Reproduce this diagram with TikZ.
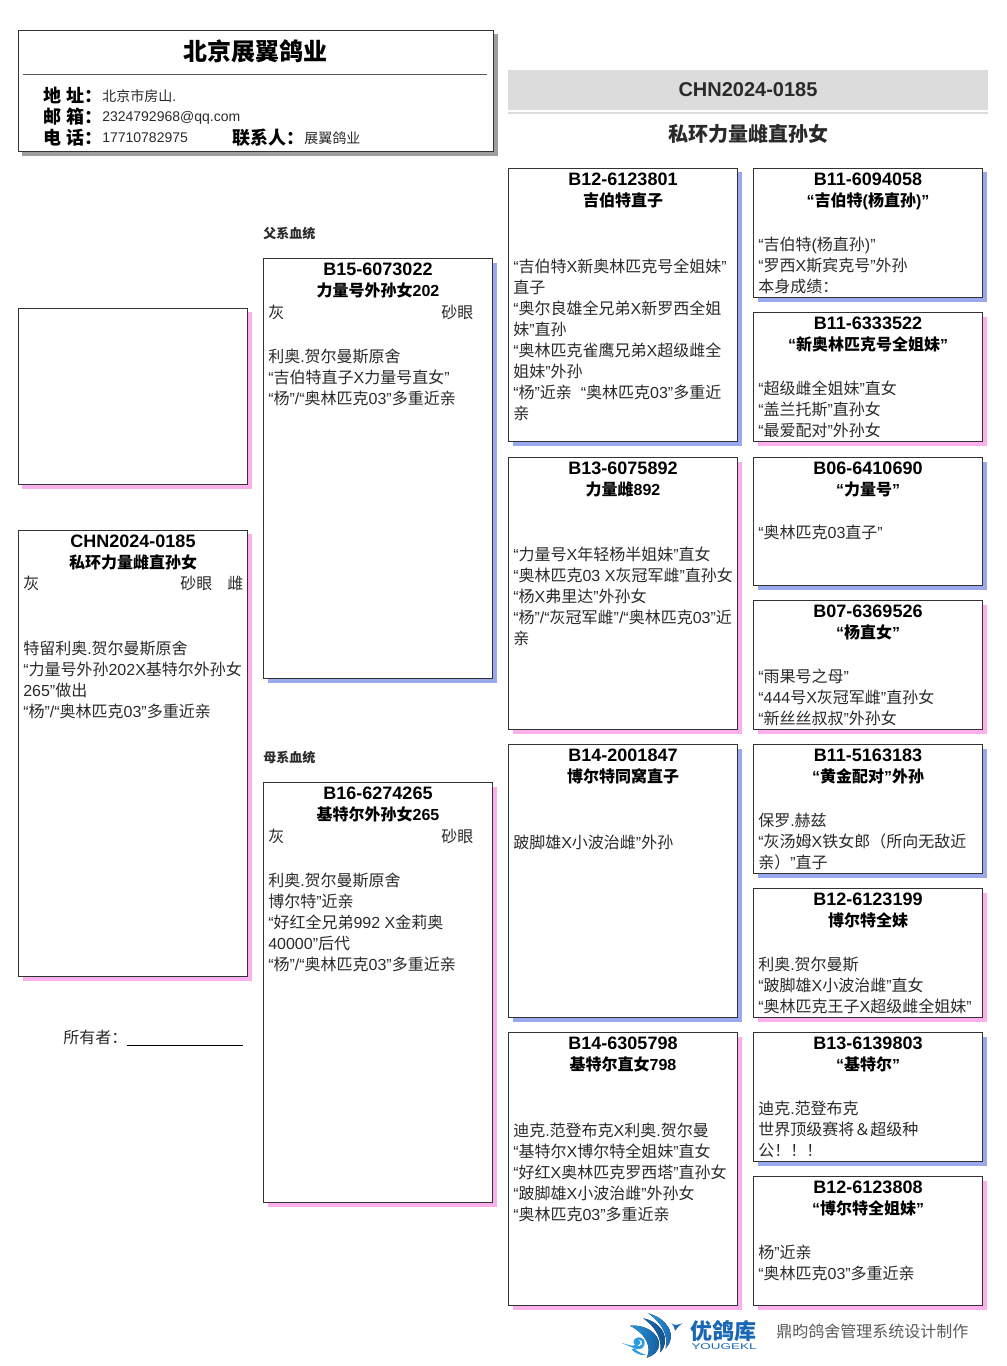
\documentclass[tikz,border=0pt]{standalone}
\usepackage{fontspec}
\setmainfont{Liberation Sans}
\newfontfamily\cjk{Noto Sans CJK SC}
\newXeTeXintercharclass\cjkclass
\newcount\cjkcnt
\def\cjkrange#1#2{\cjkcnt=#1\relax\loop\XeTeXcharclass\cjkcnt=\cjkclass\relax\ifnum\cjkcnt<#2\advance\cjkcnt by 1\repeat}
\cjkrange{"4E00}{"9FFF}
\cjkrange{"FF01}{"FF5E}
\XeTeXinterchartokenstate=1
\XeTeXinterchartoks 0 \cjkclass={\begingroup\cjk}
\XeTeXinterchartoks 4095 \cjkclass={\begingroup\cjk}
\XeTeXinterchartoks \cjkclass 0={\endgroup}
\XeTeXinterchartoks \cjkclass 4095={\endgroup}
\definecolor{shblue}{HTML}{9AA8EE}
\definecolor{shpink}{HTML}{FBB0EC}
\definecolor{shgrey}{HTML}{9E9E9E}
\definecolor{band}{HTML}{DCDCDC}
\definecolor{edge}{HTML}{333333}
\definecolor{ink}{HTML}{2A2A2A}
\definecolor{logob}{HTML}{1767B4}
\definecolor{logoc}{HTML}{2B9BDE}
\tikzset{
  x=0.75pt,y=-0.75pt,
  pedbox/.style={draw=edge,line width=0.75pt,fill=white,anchor=north west,inner sep=0pt,outer sep=0pt},
  pedtitle/.style={anchor=north,inner sep=0pt,align=center,text=black,font=\fontsize{12}{15.75}\selectfont\bfseries},
  pedbody/.style={anchor=north west,inner sep=0pt,align=left,text=ink,font=\fontsize{12}{15.75}\selectfont},
  lab/.style={anchor=base west,inner sep=0pt,text=ink},
}
\def\titlesplit#1\\#2\relax{{\fontsize{13.5}{15.75}\selectfont\strut #1}\\{\strut #2}}
\newcommand{\pedigree}[9]{%
  % name x y w h colour title bodyY body
  \fill[#6] (#2+4,#3+4) rectangle (#2+#4+4.5,#3+#5+4.5);
  \node[pedbox,minimum width=#4*0.75pt,minimum height=#5*0.75pt] (#1) at (#2,#3) {};
  \node[pedtitle] (#1t) at (#2+#4/2,#3+2.3) {\titlesplit #7\relax};
  \node[pedbody] (#1b) at (#2+4.5,#8-8.5) {\strut #9};
}
\begin{document}
\begin{tikzpicture}
\useasboundingbox (0,0) rectangle (1006,1366);
% header card
\fill[shgrey] (22,34) rectangle (497.5,156.5);
\node[pedbox,minimum width=474.5*0.75pt,minimum height=121.5*0.75pt] (card) at (18.5,30.5) {};
\node[anchor=center,inner sep=0pt,font=\fontsize{18}{20}\selectfont\bfseries] (firm) at (255.5,51) {北京展翼鸽业};
\coordinate (ruleL) at (23,74.5);
\coordinate (ruleR) at (487,74.5);
\draw[line width=0.75pt,draw=black!65] (ruleL) -- (ruleR);
\tikzset{hb/.style={lab,text=black,font=\fontsize{13.5}{16}\selectfont\bfseries},hv/.style={lab,font=\fontsize{10.5}{13}\selectfont}}
\node[hb] (l1) at (43,102.5) {地 址：};
\node[hb] (l2) at (43,123.5) {邮 箱：};
\node[hb] (l3) at (43,144.5) {电 话：};
\node[hb] (l4) at (232,144.5) {联系人：};
\node[hv] (v1) at (102,102) {北京市房山.};
\node[hv] (v2) at (102,122) {2324792968@qq.com};
\node[hv] (v3) at (102,143) {17710782975};
\node[hv] (v4) at (304,144) {展翼鸽业};
% band
\fill[band] (508,70) rectangle (988,110);
\fill[band] (508,112) rectangle (988,114);
\node[anchor=center,inner sep=0pt,text=ink,font=\fontsize{15}{18}\selectfont\bfseries] (ring) at (748,90) {CHN2024-0185};
\node[anchor=center,inner sep=0pt,text=ink,font=\fontsize{15}{18}\selectfont\bfseries] (pname) at (748,134) {私环力量雌直孙女};
% left column
\fill[shpink] (22,312) rectangle (251.5,488.5);
\node[pedbox,minimum width=229*0.75pt,minimum height=176*0.75pt] (photo) at (18.5,308.5) {};
\pedigree{main}{18.5}{530}{229}{446}{shpink}{CHN2024-0185\\私环力量雌直孙女}{648}{特留利奥.贺尔曼斯原舍\\“力量号外孙202X基特尔外孙女\\265”做出\\“杨”/“奥林匹克03”多重近亲}
\node[pedbody] (mainc) at (23,574.5) {\strut 灰};
\node[pedbody] (maine) at (180,574.5) {\strut 砂眼};
\node[pedbody] (mains) at (227,574.5) {\strut 雌};
\node[lab,font=\fontsize{12}{15}\selectfont] (owner) at (63,1043) {所有者：};
\coordinate (ownL) at (127,1045);
\coordinate (ownR) at (243,1045);
\draw[line width=0.75pt,draw=black] (ownL) -- (ownR);
% second column
\node[lab,font=\fontsize{9.75}{12}\selectfont\bfseries] (pat) at (263,238) {父系血统};
\node[lab,font=\fontsize{9.75}{12}\selectfont\bfseries] (mat) at (263,762) {母系血统};
\pedigree{sire}{263.5}{258.5}{229}{420}{shblue}{B15-6073022\\力量号外孙女202}{356}{利奥.贺尔曼斯原舍\\“吉伯特直子X力量号直女”\\“杨”/“奥林匹克03”多重近亲}
\node[pedbody] (sirec) at (268,303.5) {\strut 灰};
\node[pedbody] (siree) at (441,303.5) {\strut 砂眼};
\pedigree{dam}{263.5}{782.5}{229}{420}{shpink}{B16-6274265\\基特尔外孙女265}{880}{利奥.贺尔曼斯原舍\\博尔特”近亲\\“好红全兄弟992 X金莉奥\\40000”后代\\“杨”/“奥林匹克03”多重近亲}
\node[pedbody] (damc) at (268,827.5) {\strut 灰};
\node[pedbody] (dame) at (441,827.5) {\strut 砂眼};
% third column
\pedigree{ga}{508.5}{168.5}{229}{273}{shblue}{B12-6123801\\吉伯特直子}{266}{“吉伯特X新奥林匹克号全姐妹”\\直子\\“奥尔良雄全兄弟X新罗西全姐\\妹”直孙\\“奥林匹克雀鹰兄弟X超级雌全\\姐妹”外孙\\“杨”近亲\ \ “奥林匹克03”多重近\\亲}
\pedigree{gb}{508.5}{457.5}{229}{272}{shpink}{B13-6075892\\力量雌892}{554}{“力量号X年轻杨半姐妹”直女\\“奥林匹克03 X灰冠军雌”直孙女\\“杨X弗里达”外孙女\\“杨”/“灰冠军雌”/“奥林匹克03”近\\亲}
\pedigree{gc}{508.5}{744.5}{229}{273}{shblue}{B14-2001847\\博尔特同窝直子}{842}{跛脚雄X小波治雌”外孙}
\pedigree{gd}{508.5}{1032.5}{229}{273}{shpink}{B14-6305798\\基特尔直女798}{1130}{迪克.范登布克X利奥.贺尔曼\\“基特尔X博尔特全姐妹”直女\\“好红X奥林匹克罗西塔”直孙女\\“跛脚雄X小波治雌”外孙女\\“奥林匹克03”多重近亲}
% fourth column
\pedigree{a1}{753.5}{168.5}{229}{129}{shblue}{B11-6094058\\“吉伯特(杨直孙)”}{244}{“吉伯特(杨直孙)”\\“罗西X斯宾克号”外孙\\本身成绩：}
\pedigree{a2}{753.5}{312.5}{229}{129}{shpink}{B11-6333522\\“新奥林匹克号全姐妹”}{388}{“超级雌全姐妹”直女\\“盖兰托斯”直孙女\\“最爱配对”外孙女}
\pedigree{b1}{753.5}{457.5}{229}{128}{shblue}{B06-6410690\\“力量号”}{532}{“奥林匹克03直子”}
\pedigree{b2}{753.5}{600.5}{229}{129}{shpink}{B07-6369526\\“杨直女”}{676}{“雨果号之母”\\“444号X灰冠军雌”直孙女\\“新丝丝叔叔”外孙女}
\pedigree{c1}{753.5}{744.5}{229}{129}{shblue}{B11-5163183\\“黄金配对”外孙}{820}{保罗.赫兹\\“灰汤姆X铁女郎（所向无敌近\\亲）”直子}
\pedigree{c2}{753.5}{888.5}{229}{129}{shpink}{B12-6123199\\博尔特全妹}{964}{利奥.贺尔曼斯\\“跛脚雄X小波治雌”直女\\“奥林匹克王子X超级雌全姐妹”}
\pedigree{d1}{753.5}{1032.5}{229}{129}{shblue}{B13-6139803\\“基特尔”}{1108}{迪克.范登布克\\世界顶级赛将＆超级种\\公！！！}
\pedigree{d2}{753.5}{1176.5}{229}{129}{shpink}{B12-6123808\\“博尔特全姐妹”}{1252}{杨”近亲\\“奥林匹克03”多重近亲}
% logo mark
\begin{scope}[shift={(615,1305)},x=0.25pt,y=-0.25pt]
\fill[left color=logoc,right color=logob!90!black] (45,62) .. controls (92,58) and (130,85) .. (132,115) .. controls (133,135) and (120,150) .. (95,158) .. controls (110,130) and (98,90) .. (45,62) -- cycle;
\fill[left color=logob,right color=logob!80!black] (85,40) .. controls (125,48) and (152,78) .. (150,108) .. controls (149,122) and (144,132) .. (136,142) .. controls (142,105) and (125,68) .. (85,40) -- cycle;
\fill[left color=logoc,right color=logob] (100,25) .. controls (142,35) and (172,70) .. (167,100) .. controls (165,112) and (160,122) .. (152,130) .. controls (160,90) and (142,55) .. (100,25) -- cycle;
\fill[logoc] (20,114) .. controls (40,118) and (50,126) .. (60,120) .. controls (52,112) and (55,100) .. (70,97) .. controls (84,96) and (92,108) .. (88,120) .. controls (84,132) and (70,136) .. (58,130) .. controls (48,126) and (35,120) .. (20,114) -- cycle;
\fill[white] (71,104) .. controls (78,104) and (84,110) .. (81,118) .. controls (78,124) and (68,124) .. (64,119) .. controls (66,122) and (76,122) .. (77,114) .. controls (77,108) and (72,106) .. (71,104) -- cycle;
\fill[logoc] (58,130) .. controls (68,140) and (80,146) .. (94,150) .. controls (76,152) and (60,145) .. (50,133) -- cycle;
\fill[logob] (170,55) .. controls (178,62) and (188,60) .. (202,55) .. controls (192,62) and (186,68) .. (180,78) .. controls (180,68) and (176,62) .. (170,55) -- cycle;
\end{scope}
\node[anchor=center,inner sep=0pt,text=logob,font=\fontsize{16.5}{18}\selectfont\bfseries] (logot) at (723,1331) {优鸽库};
\node[anchor=center,inner sep=0pt,text=logob,xscale=1.12,yscale=0.7,font=\fontsize{9}{10}\selectfont] (logos) at (724,1347) {YOUGEKL};
\node[lab,text=black!65,font=\fontsize{12}{15}\selectfont] (made) at (776,1337) {鼎昀鸽舍管理系统设计制作};
\end{tikzpicture}
\end{document}
